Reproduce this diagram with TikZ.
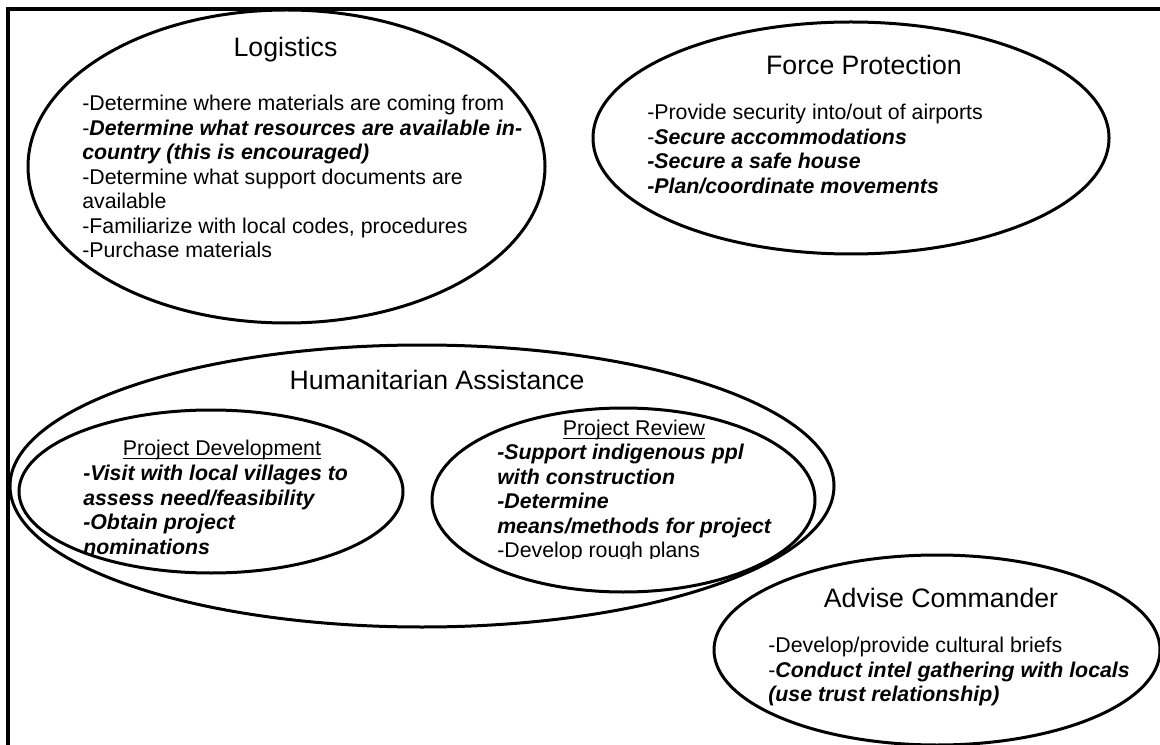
\documentclass[tikz,border=0pt]{standalone}
\usepackage{fontspec}
\setmainfont{Liberation Sans}
\newcommand{\bubble}[4]{\draw[line width=2.25pt] (#1,#2) ellipse [x radius=#3,y radius=#4];}
\newcommand{\btitle}[4]{\node[font=\fontsize{20}{23}\selectfont,anchor=base,inner sep=0pt] (#1) at (#2,#3) {#4};}
\newcommand{\bsub}[4]{\node[font=\fontsize{16}{18.4}\selectfont,anchor=base,inner sep=0pt] (#1) at (#2,#3) {#4};
  \draw[line width=1.15pt] ([yshift=-2.3pt]#1.base west) -- ([yshift=-2.3pt]#1.base east);}
\newcommand{\blist}[4]{\node[font=\fontsize{16}{18.4}\selectfont,align=left,anchor=north west,inner sep=0pt] (#1) at (#2,#3) {#4};}
\newcommand{\bitext}[1]{\textbf{\textit{#1}}}

\begin{document}
\begin{tikzpicture}[x=0.75pt,y=-0.75pt]
  \useasboundingbox (0,0) rectangle (1160,745);
  \clip (0,0) rectangle (1160,745);
  \draw[line width=3pt] (8,9.5) rectangle (1300,900);
  \bubble{286.5}{166.5}{258.5}{156.5}
  \bubble{851}{138}{258}{116}
  \bubble{422}{486}{412}{141}
  \bubble{211}{491.5}{192}{81.5}
  \bubble{623.5}{500}{191.5}{92}
  \bubble{937}{650}{223}{95}
  \btitle{logi}{285.5}{56.5}{Logistics}
  \blist{logiList}{82}{95}{-Determine where materials are coming from\\
    -\bitext{Determine what resources are available in-}\\
    \bitext{country (this is encouraged)}\\
    -Determine what support documents are\\
    available\\
    -Familiarize with local codes, procedures\\
    -Purchase materials}
  \btitle{force}{864}{74.5}{Force Protection}
  \blist{forceList}{647}{104}{-Provide security into/out of airports\\
    -\bitext{Secure accommodations}\\
    \bitext{-Secure a safe house}\\
    \bitext{-Plan/coordinate movements}}
  \btitle{huma}{437}{389.5}{Humanitarian Assistance}
  \bsub{devTitle}{222}{455.6}{Project Development}
  \blist{devList}{83}{465}{\bitext{-Visit with local villages to}\\
    \bitext{assess need/feasibility}\\
    \bitext{-Obtain project}\\
    \bitext{nominations}}
  \bsub{revTitle}{634}{435.6}{Project Review}
  \begin{scope}
    \clip (430,400) rectangle (820,558);
    \blist{revList}{497}{444}{\bitext{-Support indigenous ppl}\\
      \bitext{with construction}\\
      \bitext{-Determine}\\
      \bitext{means/methods for project}\\
      -Develop rough plans}
  \end{scope}
  \btitle{advise}{941}{607.5}{Advise Commander}
  \blist{adviseList}{768}{637}{-Develop/provide cultural briefs\\
    -\bitext{Conduct intel gathering with locals}\\
    \bitext{(use trust relationship)}}
\end{tikzpicture}
\end{document}
